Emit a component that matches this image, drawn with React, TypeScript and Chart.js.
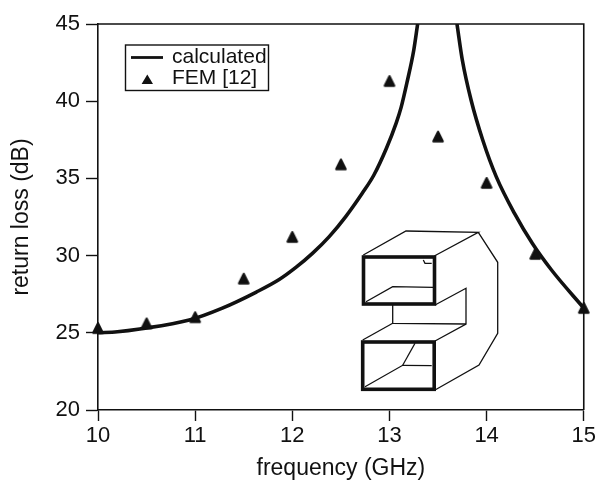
import React, { useEffect, useRef } from "react";
import { Chart, registerables } from "chart.js";

Chart.register(...registerables);

const calcFreq = [10, 10.2, 10.43, 10.94, 11.28, 11.63, 11.865, 12.04, 12.21, 12.38, 12.55, 12.72, 12.84, 12.97, 13.07, 13.12, 13.18, 13.25, 13.29, 13.5, 13.695, 13.75, 13.84, 13.96, 14.1, 14.29, 14.47, 14.67, 15];
const calcLoss: (number | null)[] = [25.0, 25.07, 25.25, 25.83, 26.6, 27.64, 28.45, 29.25, 30.16, 31.23, 32.53, 34.04, 35.22, 36.97, 38.6, 39.6, 41.2, 43.3, 45, null, 45, 42.67, 40.08, 37.49, 35.1, 32.7, 30.8, 29.05, 26.6];
const femFreq = [10, 10.5, 11, 11.5, 12, 12.5, 13, 13.5, 14, 14.5, 15];
const femLoss = [25.3, 25.6, 26.0, 28.5, 31.2, 35.9, 41.3, 37.7, 34.7, 30.1, 26.6];
const seriesNames = ["calculated", "FEM [12]"];
const xTitle = "frequency (GHz)";
const yTitle = "return loss (dB)";

const FONT = '"Liberation Sans", Arial, sans-serif';
const INK = "#111111";

// inset waveguide sketch, in page pixels
const insetThin: number[][][] = [
  [[363.3, 255], [406, 231], [478.3, 232.3], [434.3, 256]],
  [[478.3, 232.3], [497.7, 262.3], [497.7, 333.3], [479, 365], [435, 390]],
  [[366, 301.7], [392.7, 286.7], [433.3, 287.3]],
  [[435, 305], [466, 288.3], [466, 324], [435, 341]],
  [[392.7, 305], [392.7, 323.3], [466, 324]],
  [[392.7, 323.3], [362.7, 340]],
  [[365, 386.7], [402.7, 365.3], [431.7, 365.7]],
  [[402.7, 365.3], [415, 343.3]],
  [[423.3, 260], [425, 263.3], [431.7, 263.3]],
];
const insetThick: number[][] = [
  [363.5, 257, 71, 47],
  [362.7, 342, 71.5, 47.3],
];

function triangleMark(): HTMLCanvasElement {
  const c = document.createElement("canvas");
  c.width = 14;
  c.height = 14;
  const g = c.getContext("2d")!;
  g.fillStyle = INK;
  g.strokeStyle = INK;
  g.lineWidth = 2.4;
  g.lineJoin = "round";
  g.beginPath();
  g.moveTo(7, 2.2);
  g.lineTo(11.6, 11.6);
  g.lineTo(2.4, 11.6);
  g.closePath();
  g.fill();
  g.stroke();
  return c;
}

const overlay = {
  id: "overlay",
  afterDatasetsDraw(chart: any) {
    const { ctx, chartArea: a } = chart;
    ctx.save();
    ctx.strokeStyle = INK;
    ctx.lineWidth = 1.6;
    ctx.beginPath();
    ctx.moveTo(a.left, a.top);
    ctx.lineTo(a.right, a.top);
    ctx.lineTo(a.right, a.bottom);
    ctx.stroke();

    ctx.lineWidth = 1.3;
    for (const path of insetThin) {
      ctx.beginPath();
      path.forEach(([x, y], i) => (i ? ctx.lineTo(x, y) : ctx.moveTo(x, y)));
      ctx.stroke();
    }
    ctx.lineWidth = 3.6;
    for (const [x, y, w, h] of insetThick) ctx.strokeRect(x, y, w, h);

    // legend
    ctx.lineWidth = 1.4;
    ctx.strokeRect(125.5, 45, 143, 45.5);
    ctx.lineWidth = 2.8;
    ctx.beginPath();
    ctx.moveTo(131, 57.5);
    ctx.lineTo(163, 57.5);
    ctx.stroke();
    ctx.fillStyle = INK;
    ctx.beginPath();
    ctx.moveTo(147.3, 74.5);
    ctx.lineTo(153, 84);
    ctx.lineTo(141.6, 84);
    ctx.closePath();
    ctx.fill();
    ctx.font = `21px ${FONT}`;
    ctx.textBaseline = "middle";
    ctx.textAlign = "left";
    ctx.fillText(seriesNames[0], 172, 57);
    ctx.fillText(seriesNames[1], 172, 78);
    ctx.restore();
  },
};

export default function App() {
  const ref = useRef<HTMLCanvasElement>(null);
  useEffect(() => {
    document.body.style.margin = "0";
    const chart = new Chart(ref.current!, {
      type: "scatter",
      data: {
        datasets: [
          {
            label: seriesNames[1],
            data: femFreq.map((x, i) => ({ x, y: femLoss[i] })),
            pointStyle: triangleMark(),
            pointRadius: 7,
            showLine: false,
            clip: false,
            order: 0,
          },
          {
            label: seriesNames[0],
            data: calcFreq.map((x, i) => ({ x, y: calcLoss[i] })) as any,
            showLine: true,
            spanGaps: false,
            borderColor: INK,
            borderWidth: 3.6,
            pointRadius: 0,
            cubicInterpolationMode: "monotone",
            order: 1,
          },
        ],
      },
      options: {
        animation: false,
        responsive: false,
        layout: { padding: { top: 24, right: 13, left: 0, bottom: 0 } },
        plugins: { legend: { display: false }, tooltip: { enabled: false } },
        scales: {
          x: {
            type: "linear",
            min: 10,
            max: 15,
            afterFit: (s: any) => { s.height = 72; },
            border: { color: INK, width: 1.6 },
            grid: { drawOnChartArea: false, tickLength: 11, color: INK, tickWidth: 1.4 },
            ticks: { stepSize: 1, color: INK, font: { family: FONT, size: 22 }, padding: 2, maxRotation: 0 },
            title: { display: true, text: xTitle, color: INK, font: { family: FONT, size: 23 }, padding: 0 },
          },
          y: {
            min: 20,
            max: 45,
            afterFit: (s: any) => { s.width = 98; },
            border: { color: INK, width: 1.6 },
            grid: { drawOnChartArea: false, tickLength: 12, color: INK, tickWidth: 1.4 },
            ticks: { stepSize: 5, color: INK, font: { family: FONT, size: 22 }, padding: 6 },
            title: { display: true, text: yTitle, color: INK, font: { family: FONT, size: 23 }, padding: { top: 8, bottom: 0 } },
          },
        },
      },
      plugins: [overlay],
    } as any);
    return () => chart.destroy();
  }, []);
  return <canvas ref={ref} width={598} height={482} style={{ display: "block" }} />;
}
